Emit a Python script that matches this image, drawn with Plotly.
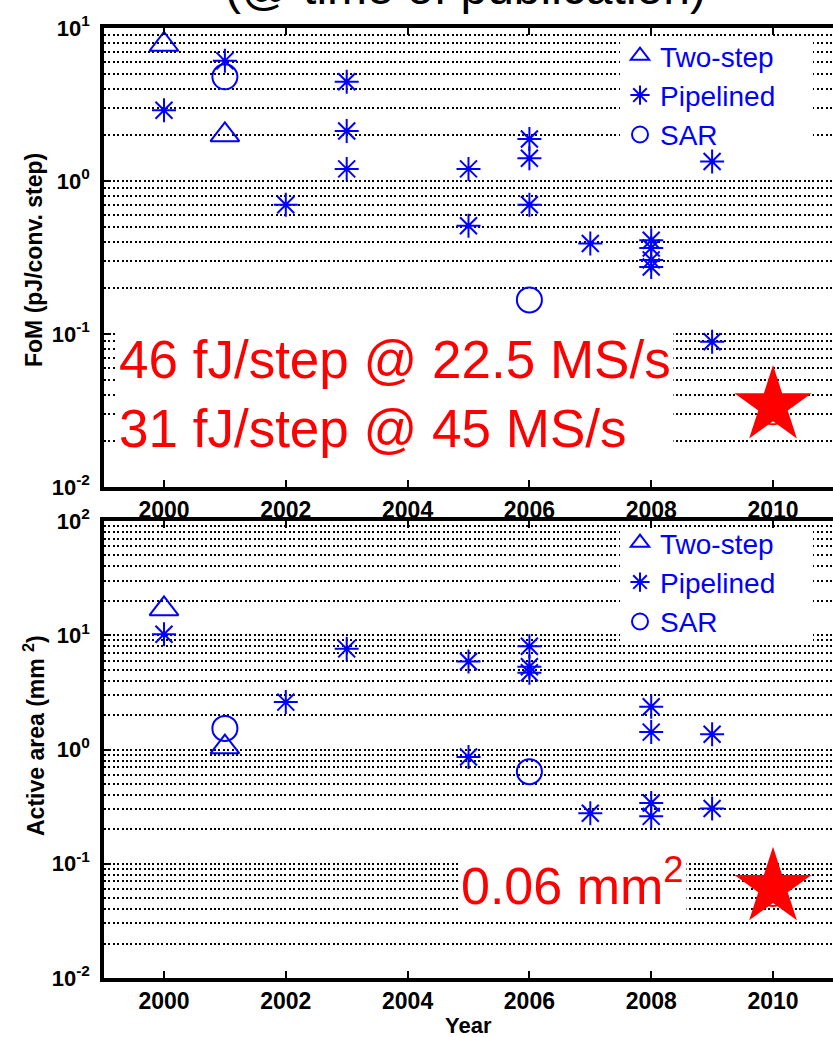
import plotly.graph_objects as go

# ---------------- data ----------------
years_two_step = [2000, 2001]
fom_two_step = [7.8, 2.0]
area_two_step = [17.0, 1.05]

years_pipe_fom = [2000, 2001, 2002, 2003, 2003, 2003, 2005, 2005, 2006, 2006, 2006,
                  2007, 2008, 2008, 2008, 2008, 2009, 2009]
fom_pipe = [2.9, 6.1, 0.70, 4.45, 2.12, 1.2, 1.2, 0.51, 1.88, 1.41, 0.70,
            0.39, 0.41, 0.365, 0.305, 0.274, 1.34, 0.089]

years_pipe_area = [2000, 2002, 2003, 2005, 2005, 2006, 2006, 2006, 2007,
                   2008, 2008, 2008, 2008, 2009, 2009]
area_pipe = [10.2, 2.6, 7.6, 5.9, 0.86, 8.0, 5.3, 4.7, 0.277,
             2.37, 1.42, 0.34, 0.26, 1.36, 0.305]

years_sar = [2001, 2006]
fom_sar = [4.8, 0.167]
area_sar = [1.53, 0.64]

this_work_year = [2010]
this_work_fom_star = [0.034]
this_work_fom_circle = [0.031]
this_work_area_star = [0.062]
this_work_area_circle = [0.055]

year_ticks = [2000, 2002, 2004, 2006, 2008, 2010]
fom_ticks = [0.01, 0.1, 1, 10]
fom_ticktext = ["10<sup>-2</sup>", "10<sup>-1</sup>", "10<sup>0</sup>", "10<sup>1</sup>"]
area_ticks = [0.01, 0.1, 1, 10, 100]
area_ticktext = ["10<sup>-2</sup>", "10<sup>-1</sup>", "10<sup>0</sup>", "10<sup>1</sup>", "10<sup>2</sup>"]

title_text = "(@ time of publication)"
fom_note = "46 fJ/step @ 22.5 MS/s<br>31 fJ/step @ 45 MS/s"
area_note = "0.06 mm<sup>2</sup>"

# ---------------- style ----------------
BLUE = "#0000FF"
RED = "#FF0000"
FONT = "Liberation Sans"

def minor_vals(lo, hi):
    vals = []
    for e in range(lo, hi):
        for m in range(2, 10):
            vals.append(m * 10 ** e)
    return vals

fig = go.Figure()

def add_series(xa, ya, legend, groups):
    (xs_t, ys_t), (xs_p, ys_p), (xs_s, ys_s), (ws, wc) = groups
    fig.add_trace(go.Scatter(x=xs_t, y=ys_t, mode="markers", name="Two-step",
                             xaxis=xa, yaxis=ya, legend=legend,
                             marker=dict(symbol="triangle-up-open", size=25, color=BLUE,
                                         line=dict(color=BLUE, width=2))))
    fig.add_trace(go.Scatter(x=xs_p, y=ys_p, mode="markers", name="Pipelined",
                             xaxis=xa, yaxis=ya, legend=legend,
                             marker=dict(symbol="asterisk-open", size=20, color=BLUE,
                                         line=dict(color=BLUE, width=2))))
    fig.add_trace(go.Scatter(x=xs_s, y=ys_s, mode="markers", name="SAR",
                             xaxis=xa, yaxis=ya, legend=legend,
                             marker=dict(symbol="circle-open", size=25, color=BLUE,
                                         line=dict(color=BLUE, width=2))))
    fig.add_trace(go.Scatter(x=this_work_year, y=wc, mode="markers", showlegend=False,
                             xaxis=xa, yaxis=ya,
                             marker=dict(symbol="circle-open", size=25, color=RED,
                                         line=dict(color=RED, width=2))))
    fig.add_trace(go.Scatter(x=this_work_year, y=ws, mode="markers", showlegend=False,
                             xaxis=xa, yaxis=ya,
                             marker=dict(symbol="star", size=58, color=RED,
                                         line=dict(width=0))))

add_series("x", "y", "legend",
           ((years_two_step, fom_two_step), (years_pipe_fom, fom_pipe),
            (years_sar, fom_sar), (this_work_fom_star, this_work_fom_circle)))
add_series("x2", "y2", "legend2",
           ((years_two_step, area_two_step), (years_pipe_area, area_pipe),
            (years_sar, area_sar), (this_work_area_star, this_work_area_circle)))

H = 1037.0
W = 833.0
L = 104.0
PW = W - L
XR = [1999.015, 2010.985]

def py(pix):
    return 1 - pix / H

def px(pix):
    return (pix - L) / PW

def xdata(pix):
    return XR[0] + (pix - L) / PW * (XR[1] - XR[0])

def ydata(pix, top_pix, bottom_pix, lo, hi):
    frac = (bottom_pix - pix) / (bottom_pix - top_pix)
    return 10 ** (lo + frac * (hi - lo))

tickfont = dict(family=FONT, size=23, color="black", weight="bold")
ytickfont = dict(family=FONT, size=22, color="black", weight="bold")
grid_common = dict(showgrid=True, gridcolor="black", gridwidth=1.6, griddash="2px,2.4px")

xcommon = dict(range=XR, tickvals=year_ticks, ticks="inside",
               ticklen=7, tickwidth=2, tickcolor="black", showline=True, linewidth=3.5,
               linecolor="black", mirror="allticks", showgrid=False, zeroline=False,
               tickfont=tickfont, automargin=False)

ycommon = dict(type="log", ticks="inside", ticklen=7, tickwidth=2, tickcolor="black",
               showline=True, linewidth=3.5, linecolor="black", zeroline=False,
               mirror=False, tickfont=ytickfont, ticklabelstandoff=6, automargin=False)

legend_common = dict(xanchor="left", yanchor="top", bgcolor="rgba(0,0,0,0)",
                     borderwidth=0, font=dict(family=FONT, size=28, color=BLUE),
                     itemsizing="trace", tracegroupgap=0)

fig.update_layout(
    template="none",
    width=833, height=1037,
    margin=dict(l=104, r=0, t=0, b=0, pad=0, autoexpand=False),
    paper_bgcolor="white", plot_bgcolor="white",
    font=dict(family=FONT, color="black"),
    xaxis=dict(domain=[0, 1], anchor="y", **xcommon),
    yaxis=dict(domain=[py(487), py(28)], anchor="x", range=[-2, 1],
               tickvals=fom_ticks, ticktext=fom_ticktext,
               minor=dict(tickvals=minor_vals(-2, 1), **grid_common),
               **grid_common, **ycommon),
    xaxis2=dict(domain=[0, 1], anchor="y2", **xcommon),
    yaxis2=dict(domain=[py(978), py(521)], anchor="x2", range=[-2, 2],
                tickvals=area_ticks, ticktext=area_ticktext,
                minor=dict(tickvals=minor_vals(-2, 2), **grid_common),
                **grid_common, **ycommon),
    legend=dict(x=px(620), y=py(31), **legend_common),
    legend2=dict(x=px(620), y=py(518), **legend_common),
)

# white boxes behind the legends (above grid, below markers)
fig.add_shape(type="rect", xref="x", yref="y", x0=xdata(620), x1=xdata(813),
              y0=ydata(146, 28, 487, -2, 1), y1=ydata(41, 28, 487, -2, 1),
              layer="between", fillcolor="white", line_width=0)
fig.add_shape(type="rect", xref="x2", yref="y2", x0=xdata(620), x1=xdata(813),
              y0=ydata(645, 521, 978, -2, 2), y1=ydata(527, 521, 978, -2, 2),
              layer="between", fillcolor="white", line_width=0)

annotations = [
    dict(text=title_text, xref="paper", yref="paper", x=px(465), y=1,
         xanchor="center", yanchor="bottom", yshift=-16, showarrow=False,
         font=dict(family=FONT, size=48, color="black")),
    dict(text=fom_note, xref="paper", yref="paper", x=px(116), y=py(394),
         xanchor="left", yanchor="middle", showarrow=False, align="left",
         bgcolor="white", borderpad=2,
         font=dict(family=FONT, size=53, color=RED)),
    dict(text=area_note, xref="paper", yref="paper", x=px(458), y=py(882),
         xanchor="left", yanchor="middle", showarrow=False, align="left",
         bgcolor="white", borderpad=2,
         font=dict(family=FONT, size=52, color=RED)),
    dict(text="FoM (pJ/conv. step)", xref="paper", yref="paper", x=px(34), y=py(260),
         xanchor="center", yanchor="middle", textangle=-90, showarrow=False,
         font=dict(family=FONT, size=23, color="black", weight="bold")),
    dict(text="Active area (mm <sup>2</sup>)", xref="paper", yref="paper", x=px(34),
         y=py(736), xanchor="center", yanchor="middle", textangle=-90, showarrow=False,
         font=dict(family=FONT, size=23, color="black", weight="bold")),
    dict(text="Year", xref="paper", yref="paper", x=px(468), y=py(1025),
         xanchor="center", yanchor="middle", showarrow=False,
         font=dict(family=FONT, size=22, color="black", weight="bold")),
]
fig.update_layout(annotations=annotations)

fig.write_html("out.html", config={"displayModeBar": False},
               post_script="document.body.style.margin='0px';"
                           "document.body.style.overflow='hidden';")
